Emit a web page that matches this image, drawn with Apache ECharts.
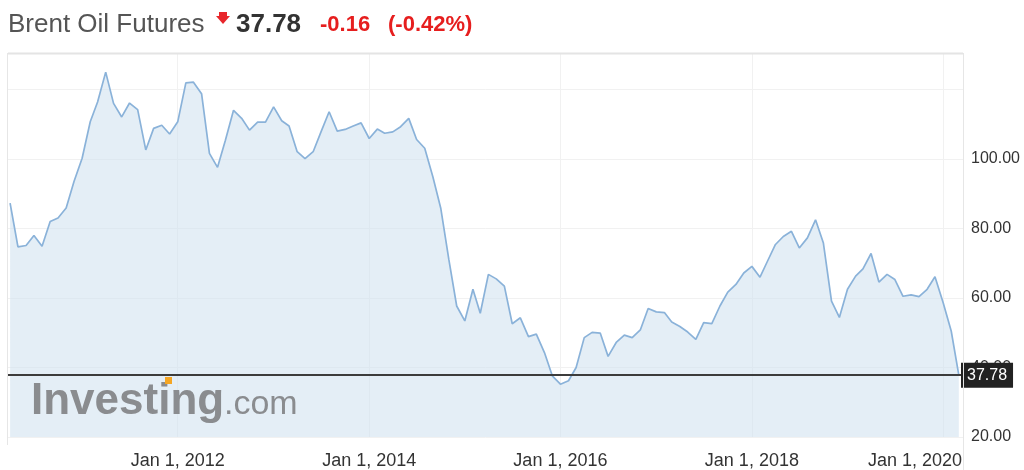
<!DOCTYPE html>
<html>
<head>
<meta charset="utf-8">
<style>
  html, body { margin: 0; padding: 0; background: #fff; }
  #chart { width: 1024px; height: 470px; }
</style>
<script src="https://cdn.jsdelivr.net/npm/echarts@6/dist/echarts.min.js"></script>
</head>
<body>
<div id="chart"></div>
<script>
// Monthly closes, Brent Oil Futures
const firstYear = 2010, firstMonth = 4; // series starts April 2010
const prices2010 = [87.3, 74.7, 75.1, 78.0, 74.9, 82.0, 83.0, 85.9, 93.5];
const prices2011 = [100.2, 110.7, 116.4, 125.0, 116.0, 112.1, 116.1, 114.2, 102.6, 108.8, 109.7, 107.2];
const prices2012 = [110.7, 121.9, 122.1, 118.8, 101.6, 97.6, 105.4, 114.0, 111.7, 108.3, 110.6, 110.6];
const prices2013 = [115.0, 111.0, 109.5, 102.1, 100.1, 102.1, 107.8, 113.6, 108.0, 108.5, 109.5, 110.4];
const prices2014 = [105.9, 108.6, 107.4, 107.8, 109.3, 111.7, 105.6, 103.1, 94.9, 85.9, 71.1, 57.7];
const prices2015 = [53.4, 62.5, 55.6, 66.8, 65.5, 63.4, 52.6, 54.3, 48.9, 49.6, 44.3, 37.6];
const prices2016 = [35.2, 36.2, 40.0, 48.6, 50.1, 49.9, 43.2, 47.2, 49.3, 48.6, 50.8, 57.0];
const prices2017 = [56.0, 55.8, 53.1, 51.8, 50.2, 48.1, 52.9, 52.6, 57.7, 61.7, 63.9, 67.2];
const prices2018 = [69.1, 66.0, 70.5, 75.4, 77.7, 79.2, 74.4, 77.3, 82.5, 75.8, 59.1, 54.4];
const prices2019 = [62.5, 66.3, 68.4, 72.8, 64.6, 66.8, 65.3, 60.5, 60.9, 60.4, 62.5, 66.1];
const prices2020 = [58.7, 50.5, 37.78];

const currentPrice = 37.78;
const change = '-0.16';
const changePct = '(-0.42%)';
const title = 'Brent Oil Futures';

const xTickYears = [2012, 2014, 2016, 2018, 2020];
const yTicks = [20, 40, 60, 80, 100];

// build [timestamp, value] pairs (first day of each month)
const allPrices = [].concat(prices2010, prices2011, prices2012, prices2013, prices2014,
  prices2015, prices2016, prices2017, prices2018, prices2019, prices2020);
const seriesData = allPrices.map((v, i) => {
  const m0 = firstMonth - 1 + i;
  return [new Date(firstYear + Math.floor(m0 / 12), m0 % 12, 1).getTime(), v];
});
const xTickValues = xTickYears.map(y => new Date(y, 0, 1).getTime());

const FONT = '"Liberation Sans", Arial, Helvetica, sans-serif';
const chart = echarts.init(document.getElementById('chart'), null, { renderer: 'canvas' });

chart.setOption({
  animation: false,
  backgroundColor: '#ffffff',
  textStyle: { fontFamily: FONT },
  grid: { left: 8, right: 61, top: 53, bottom: 33, containLabel: false },
  xAxis: {
    type: 'value',
    min: new Date(2010, 2, 24).getTime(),
    max: new Date(2020, 2, 17).getTime(),
    axisLine: { show: false },
    axisTick: { show: false, customValues: xTickValues },
    splitLine: { show: true, lineStyle: { color: '#f1f1f1', width: 1 } },
    axisLabel: {
      customValues: xTickValues,
      showMinLabel: true,
      showMaxLabel: true,
      margin: 15,
      color: '#333',
      fontSize: 18,
      fontFamily: FONT,
      formatter: function (val) {
        const y = new Date(val).getFullYear();
        if (y === 2020) return '{r|Jan 1, ' + y + '}';
        return 'Jan 1, ' + y;
      },
      rich: {
        r: { fontSize: 18, color: '#333', fontFamily: FONT, padding: [0, 56, 0, 0] }
      }
    }
  },
  yAxis: {
    type: 'value',
    position: 'right',
    min: 20,
    max: 130.5,
    interval: 20,
    axisLine: { show: false },
    axisTick: { show: false },
    splitLine: { show: true, lineStyle: { color: '#f1f1f1', width: 1 } },
    axisLabel: {
      margin: 8,
      color: '#333',
      fontSize: 16,
      fontFamily: FONT,
      formatter: function (v) {
        return yTicks.indexOf(v) >= 0 ? v.toFixed(2) : '';
      }
    }
  },
  series: [{
    type: 'line',
    data: seriesData,
    showSymbol: false,
    symbol: 'none',
    silent: true,
    lineStyle: { color: '#8ab2d9', width: 1.7 },
    areaStyle: { color: 'rgba(210,226,240,0.6)', opacity: 1 },
    emphasis: { disabled: true },
    markLine: {
      silent: true,
      symbol: ['none', 'none'],
      animation: false,
      lineStyle: { color: '#3c3c3c', width: 2, type: 'solid' },
      label: {
        show: true,
        position: 'end',
        distance: -2,
        formatter: currentPrice.toFixed(2),
        color: '#ffffff',
        fontSize: 16,
        fontFamily: FONT,
        backgroundColor: '#222222',
        padding: [5, 6, 4, 6]
      },
      data: [{ yAxis: currentPrice }]
    }
  }],
  graphic: [
    // frame
    { type: 'line', z: 50, shape: { x1: 8, y1: 53.5, x2: 963, y2: 53.5 }, style: { stroke: '#e4e4e4', lineWidth: 2 } },
    { type: 'line', z: 50, shape: { x1: 7.5, y1: 53, x2: 7.5, y2: 445 }, style: { stroke: '#e6e6e6', lineWidth: 1 } },
    { type: 'line', z: 50, shape: { x1: 963.5, y1: 53, x2: 963.5, y2: 470 }, style: { stroke: '#e6e6e6', lineWidth: 1 } },
    // header
    { type: 'text', z: 50, style: { x: 8, y: 24.5, text: title, fill: '#555555', font: '26px ' + FONT, verticalAlign: 'middle', textVerticalAlign: 'middle' } },
    { type: 'polygon', z: 50, shape: { points: [[219, 12], [227, 12], [227, 16], [230, 16], [223, 24], [216, 16], [219, 16]] }, style: { fill: '#e8262b' } },
    { type: 'text', z: 50, style: { x: 236, y: 24.5, text: currentPrice.toFixed(2), fill: '#333333', font: 'bold 26px ' + FONT, verticalAlign: 'middle', textVerticalAlign: 'middle' } },
    { type: 'text', z: 50, style: { x: 320, y: 25, text: change, fill: '#e61e1e', font: 'bold 22px ' + FONT, verticalAlign: 'middle', textVerticalAlign: 'middle' } },
    { type: 'text', z: 50, style: { x: 388, y: 25, text: changePct, fill: '#e61e1e', font: 'bold 22px ' + FONT, verticalAlign: 'middle', textVerticalAlign: 'middle' } },
    // watermark
    { type: 'text', z: 40, style: { x: 31, y: 402, text: 'Investing', fill: '#8a8c8f', font: 'bold 44px ' + FONT, verticalAlign: 'middle', textVerticalAlign: 'middle' } },
    { type: 'text', z: 40, style: { x: 224, y: 405, text: '.com', fill: '#8a8c8f', font: '34px ' + FONT, verticalAlign: 'middle', textVerticalAlign: 'middle' } },
    { type: 'rect', z: 41, shape: { x: 165, y: 377, width: 7, height: 7 }, style: { fill: '#f5a623' } }
  ]
});
</script>
</body>
</html>
